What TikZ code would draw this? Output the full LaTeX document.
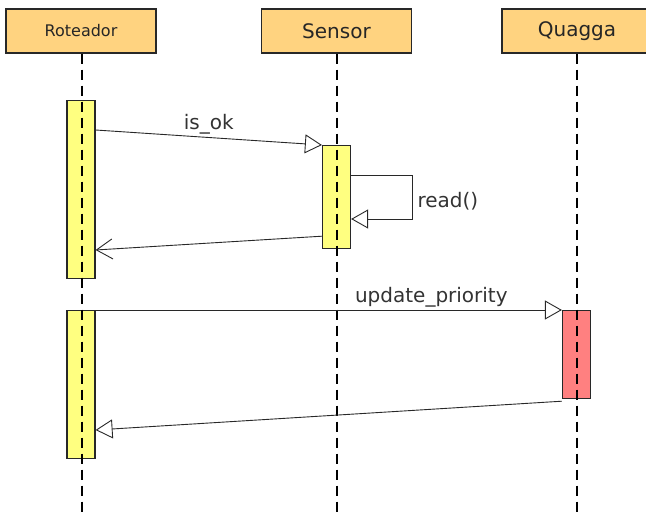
\documentclass[tikz,border=0pt]{standalone}
\usepackage{fontspec}
\setmainfont{DejaVu Sans}
\usepackage{xcolor}
\usepackage{tikz}
\usetikzlibrary{calc}
\usetikzlibrary{arrows.meta}

\definecolor{hdrOrange}{RGB}{255,211,128}
\definecolor{actYellow}{RGB}{255,255,128}
\definecolor{actRed}{RGB}{255,128,128}
\definecolor{lineGray}{RGB}{40,40,40}

\begin{document}
\begin{tikzpicture}[
		%Global config
		x=1pt, y=-1pt,
		color = lineGray,
		%Styles
		Head/.style={
			draw=lineGray,
			fill=hdrOrange,
			line width=1.2pt,
			minimum width=150pt,
			minimum height=44pt,
			inner sep=0pt,
			text=black!85,
			font=\fontsize{20}{24}\selectfont
		},
		Act/.style={
			draw=lineGray,
			fill=actYellow,
			line width=1.2pt,
			minimum width=28pt,
			inner sep=0pt,
			anchor=north
		},
		Life/.style={
			line width=1.1pt,
			color=black,
			dash pattern=on 10pt off 6pt
		},
		Msg/.style={
			line width=0.9pt,
			-{Triangle[open,length=17pt,width=19pt,fill=white]}
		},
		Ret/.style={
			line width=0.9pt,
			-{Straight Barb[length=16pt,width=20pt]}
		},
		Lbl/.style={
			text=black!80,
			font=\fontsize{20}{24}\selectfont,
			inner sep=2pt
		}
		]
		\useasboundingbox (0,0) rectangle (646,513);

		% lifeline heads
		\node[Head] (rot) at (81,31) {\fontsize{16}{19}\selectfont Roteador};
		\node[Head] (sen) at (336.5,31) {Sensor};
		\node[Head] (qua) at (577,31) {Quagga};

		% activations
		\node[Act, minimum height=178pt] (rotA) at (81,100) {};
		\node[Act, minimum height=103pt] (senA) at (336.5,145) {};
		\node[Act, minimum height=148pt] (rotB) at (81,310) {};
		\node[Act, minimum height=88pt, fill=actRed] (quaA) at (576.5,310) {};

		% lifelines
		\coordinate (rotEnd) at (82,513);
		\coordinate (senEnd) at (337,513);
		\coordinate (quaEnd) at (577,513);
		\draw[Life] (rot.south -| rotEnd) -- (rotEnd);
		\draw[Life] (sen.south -| senEnd) -- (senEnd);
		\draw[Life] (qua.south -| quaEnd) -- (quaEnd);

		% messages
		\draw[Msg] ($(rotA.north east)+(0,30)$) -- (senA.north west)
			node[Lbl, midway, above, yshift=1pt] (okLbl) {is\_ok};
		\draw[Msg] ($(senA.north east)+(0,30)$) -- ++(61,0) |- ($(senA.north east)+(0,74)$)
			node[Lbl, pos=0.25, right, xshift=3pt, yshift=-4pt] (readLbl) {read()};
		\draw[Ret] ($(senA.south west)+(0,-13)$) -- ($(rotA.north east)+(0,150)$);

		\draw[Msg] (rotB.north east) -- (quaA.north west)
			node[Lbl, pos=0.72, above] (updLbl) {update\_priority};
		\draw[Msg] ($(quaA.south west)+(0,2)$) -- ($(rotB.north east)+(0,120)$);
	\end{tikzpicture}
\end{document}
